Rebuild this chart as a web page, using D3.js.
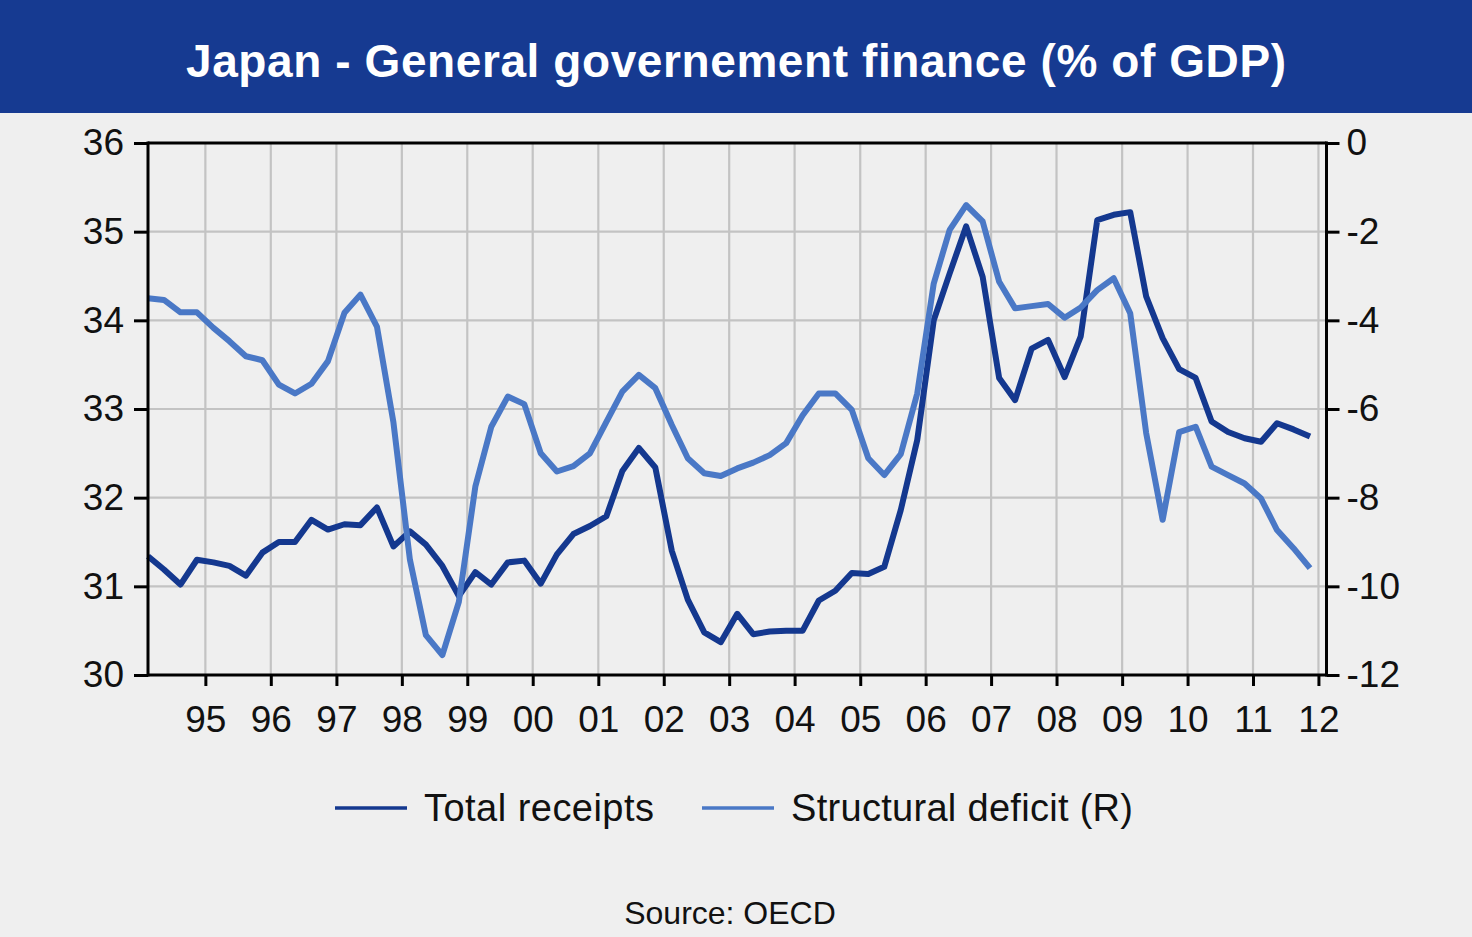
<!DOCTYPE html>
<html><head><meta charset="utf-8">
<script src="https://cdn.jsdelivr.net/npm/d3@7"></script>
<style>
html,body{margin:0;padding:0;background:#efefef;}
svg{display:block;font-family:"Liberation Sans",Arial,Helvetica,sans-serif;}
</style></head><body>
<svg id="chart" width="1472" height="937"></svg>
<script>
// ---------------- data ----------------
const chartTitle = "Japan - General governement finance (% of GDP)";
const sourceText = "Source: OECD";
const seriesNames = ["Total receipts", "Structural deficit (R)"];
const firstQuarter = {year: 1994, quarter: 1};
const yearTicks = [1995,1996,1997,1998,1999,2000,2001,2002,2003,2004,2005,2006,2007,2008,2009,2010,2011,2012];
const leftTicks = [30,31,32,33,34,35,36];
const rightTicks = [-12,-10,-8,-6,-4,-2,0];

// Total receipts, % of GDP (left axis), quarterly 1994Q1 - 2011Q4
const totalReceipts = [
  31.34,31.19,31.02,31.30, 31.27,31.23,31.12,31.38, 31.50,31.50,31.75,31.64,
  31.70,31.69,31.89,31.45, 31.62,31.47,31.23,30.89, 31.16,31.02,31.27,31.29,
  31.03,31.36,31.59,31.68, 31.79,32.30,32.56,32.34, 31.40,30.85,30.48,30.37,
  30.69,30.46,30.49,30.50, 30.50,30.84,30.95,31.15, 31.14,31.22,31.86,32.65,
  34.00,34.53,35.06,34.49, 33.35,33.10,33.68,33.78, 33.36,33.82,35.13,35.19,
  35.22,34.27,33.80,33.45, 33.35,32.86,32.74,32.67, 32.63,32.84,32.77,32.69
];
// Structural deficit, % of GDP (right axis)
const structuralDeficit = [
  -3.50,-3.54,-3.82,-3.82, -4.17,-4.47,-4.81,-4.90, -5.45,-5.65,-5.43,-4.92,
  -3.83,-3.42,-4.14,-6.30, -9.40,-11.10,-11.55,-10.35, -7.75,-6.40,-5.72,-5.89,
  -7.00,-7.41,-7.29,-7.00, -6.29,-5.61,-5.23,-5.53, -6.36,-7.11,-7.45,-7.51,
  -7.34,-7.21,-7.04,-6.77, -6.14,-5.65,-5.65,-6.02, -7.11,-7.49,-7.02,-5.65,
  -3.17,-1.96,-1.40,-1.77, -3.13,-3.73,-3.68,-3.63, -3.94,-3.71,-3.32,-3.05,
  -3.84,-6.54,-8.50,-6.52, -6.40,-7.30,-7.49,-7.68, -8.02,-8.73,-9.14,-9.59
];

// ---------------- styles ----------------
const W = 1472, H = 937;
const plot = {left: 148, right: 1326.5, top: 143, bottom: 675};
const colors = {band: "#163a91", dark: "#14388f", light: "#4a78c6", grid: "#c3c3c3", bg: "#efefef"};

const svg = d3.select("#chart");
svg.append("rect").attr("width", W).attr("height", H).attr("fill", colors.bg);

// title band
svg.append("rect").attr("x", 0).attr("y", 0).attr("width", W).attr("height", 113).attr("fill", colors.band);
svg.append("text").attr("x", 736).attr("y", 77).attr("text-anchor", "middle")
  .attr("fill", "#ffffff").attr("font-weight", "bold").attr("font-size", 46)
  .attr("textLength", 1100).attr("lengthAdjust", "spacing").text(chartTitle);

// quarter mid-dates
const dates = totalReceipts.map((_, i) => {
  const q = firstQuarter.quarter - 1 + i;
  return new Date(firstQuarter.year + Math.floor(q / 4), (q % 4) * 3 + 1, 15);
});
const x = d3.scaleTime()
  .domain([dates[0], new Date(dates[dates.length - 1].getFullYear() + 1, 1, 15)])
  .range([plot.left, plot.right]);
const yL = d3.scaleLinear().domain([30, 36]).range([plot.bottom, plot.top]);
const yR = d3.scaleLinear().domain([-12, 0]).range([plot.bottom, plot.top]);
const yearDates = yearTicks.map(y => new Date(y, 0, 1));

// grid
const g = svg.append("g");
g.selectAll("line.v").data(yearDates).join("line")
  .attr("x1", d => x(d)).attr("x2", d => x(d))
  .attr("y1", plot.top).attr("y2", plot.bottom)
  .attr("stroke", colors.grid).attr("stroke-width", 2.2);
g.selectAll("line.h").data(leftTicks.slice(1, -1)).join("line")
  .attr("x1", plot.left).attr("x2", plot.right)
  .attr("y1", d => yL(d)).attr("y2", d => yL(d))
  .attr("stroke", colors.grid).attr("stroke-width", 2.2);

// series
const lineL = d3.line().x((d, i) => x(dates[i])).y(d => yL(d));
const lineR = d3.line().x((d, i) => x(dates[i])).y(d => yR(d));
svg.append("path").datum(totalReceipts).attr("d", lineL)
  .attr("fill", "none").attr("stroke", colors.dark).attr("stroke-width", 6)
  .attr("stroke-linejoin", "round");
svg.append("path").datum(structuralDeficit).attr("d", lineR)
  .attr("fill", "none").attr("stroke", colors.light).attr("stroke-width", 6)
  .attr("stroke-linejoin", "round");

// axes
const fmt = d => String(d);
const axL = svg.append("g").attr("transform", `translate(${plot.left},0)`)
  .call(d3.axisLeft(yL).tickValues(leftTicks).tickSize(14).tickPadding(10).tickFormat(fmt));
const axR = svg.append("g").attr("transform", `translate(${plot.right},0)`)
  .call(d3.axisRight(yR).tickValues(rightTicks).tickSize(13).tickPadding(7).tickFormat(fmt));
const axB = svg.append("g").attr("transform", `translate(0,${plot.bottom})`)
  .call(d3.axisBottom(x).tickValues(yearDates).tickSize(11).tickPadding(20).tickFormat(d3.timeFormat("%y")));
[axL, axR, axB].forEach(a => {
  a.select(".domain").remove();
  a.selectAll(".tick line").attr("stroke", "#000").attr("stroke-width", 3);
  a.selectAll(".tick text").attr("font-size", 37).attr("fill", "#111")
    .attr("font-family", '"Liberation Sans",Arial,sans-serif');
});
// frame lines
const frame = svg.append("g").attr("stroke", "#000").attr("stroke-width", 3).attr("fill", "none");
frame.append("line").attr("x1", plot.left).attr("x2", plot.left).attr("y1", plot.top - 1.5).attr("y2", plot.bottom + 1.5);
frame.append("line").attr("x1", plot.right).attr("x2", plot.right).attr("y1", plot.top - 1.5).attr("y2", plot.bottom + 1.5);
frame.append("line").attr("x1", plot.left).attr("x2", plot.right).attr("y1", plot.top).attr("y2", plot.top);
frame.append("line").attr("x1", plot.left).attr("x2", plot.right).attr("y1", plot.bottom).attr("y2", plot.bottom);

// legend
const legendItems = [
  {name: seriesNames[0], color: colors.dark, x0: 335, len: 230},
  {name: seriesNames[1], color: colors.light, x0: 702, len: 342}
];
const lg = svg.append("g");
legendItems.forEach(it => {
  lg.append("line").attr("x1", it.x0).attr("x2", it.x0 + 72).attr("y1", 808).attr("y2", 808)
    .attr("stroke", it.color).attr("stroke-width", 3.5);
  lg.append("text").attr("x", it.x0 + 89).attr("y", 821).attr("font-size", 38).attr("fill", "#111")
    .attr("textLength", it.len).attr("lengthAdjust", "spacing").text(it.name);
});

// source
svg.append("text").attr("x", 730).attr("y", 924).attr("text-anchor", "middle")
  .attr("font-size", 32).attr("fill", "#111").text(sourceText);
</script>
</body></html>
